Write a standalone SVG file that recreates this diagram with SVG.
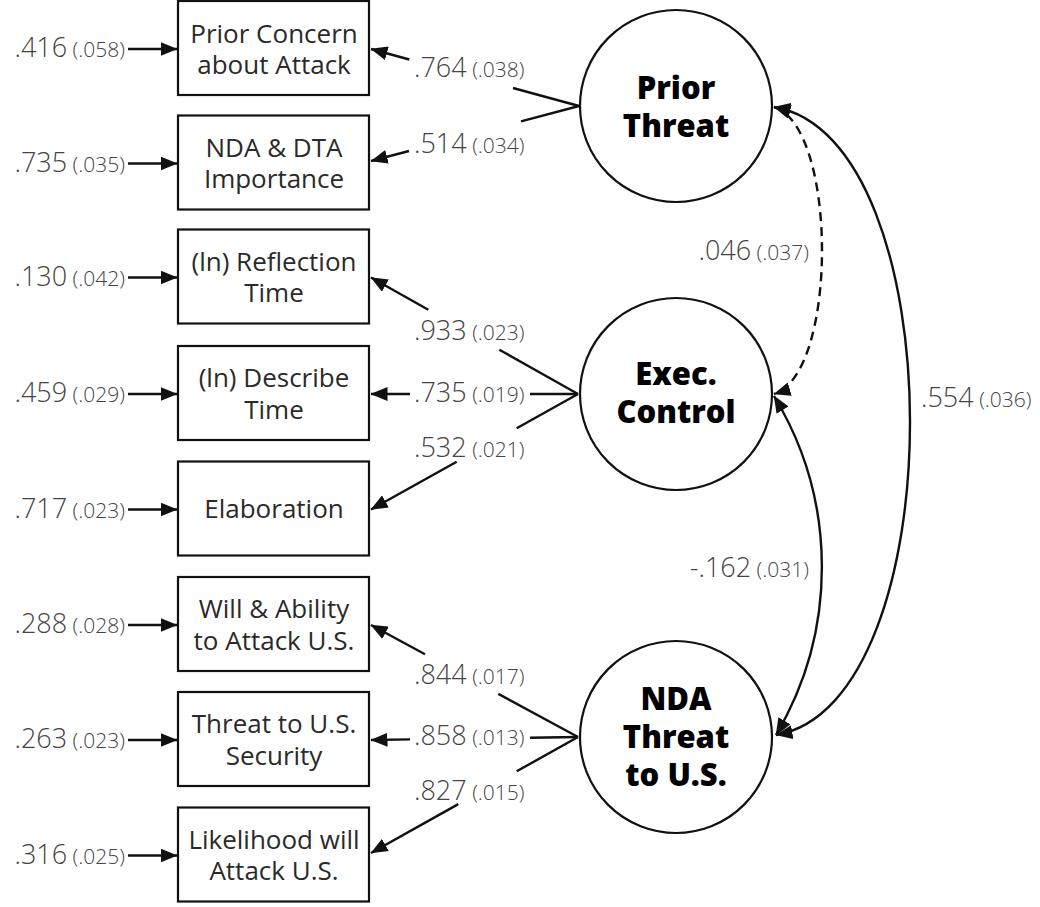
<svg xmlns="http://www.w3.org/2000/svg" width="1040" height="907" viewBox="0 0 1040 907">
<style>
.box{fill:#fff;stroke:#111;stroke-width:2.2}
.lat{fill:#fff;stroke:#111;stroke-width:2.2}
.bt{font-family:"Open Sans","Noto Sans",sans-serif;font-size:26px;fill:#2a2a2a;text-anchor:middle}
.ct{font-family:"Open Sans","Noto Sans",sans-serif;font-size:31px;font-weight:800;fill:#000;text-anchor:middle}
.num{font-family:"Open Sans","Noto Sans",sans-serif;font-size:27px;font-weight:300;fill:#444}
.se{font-size:21px}
.ln{fill:none;stroke:#111;stroke-width:2.4}
.dash{stroke-dasharray:9 6}
</style>
<defs>
<marker id="ah" viewBox="0 0 17 14" refX="16.5" refY="7" markerWidth="17" markerHeight="14" markerUnits="userSpaceOnUse" orient="auto-start-reverse">
<path d="M0,0 L17,7 L0,14 z" fill="#111"/>
</marker>
</defs>
<rect width="1040" height="907" fill="#fff"/>

<g id="connectors">
<path class="ln" d="M128 49 L177 49" marker-end="url(#ah)"/>
<path class="ln" d="M128 163.5 L177 163.5" marker-end="url(#ah)"/>
<path class="ln" d="M128 277.5 L177 277.5" marker-end="url(#ah)"/>
<path class="ln" d="M128 394 L177 394" marker-end="url(#ah)"/>
<path class="ln" d="M128 509.5 L177 509.5" marker-end="url(#ah)"/>
<path class="ln" d="M128 625 L177 625" marker-end="url(#ah)"/>
<path class="ln" d="M128 740 L177 740" marker-end="url(#ah)"/>
<path class="ln" d="M128 855.5 L177 855.5" marker-end="url(#ah)"/>
<path class="ln" d="M579 106 L513 88 M409.3 59.5 L371 49" marker-end="url(#ah)"/>
<path class="ln" d="M579 106 L521 121.3 M409 151 L371 161" marker-end="url(#ah)"/>
<path class="ln" d="M578 394 L499.3 349.7 M428.3 309.7 L371 277.5" marker-end="url(#ah)"/>
<path class="ln" d="M578 394 L530 394 M410 394 L371 394" marker-end="url(#ah)"/>
<path class="ln" d="M578 394 L516.7 428.2 M456.7 461.7 L371 509.5" marker-end="url(#ah)"/>
<path class="ln" d="M578 737 L498.3 693.9 M425 654.2 L371 625" marker-end="url(#ah)"/>
<path class="ln" d="M578 737 L530 737.7 M410 739.4 L371 740" marker-end="url(#ah)"/>
<path class="ln" d="M578 737 L516.7 771.3 M458.3 804.1 L371 853" marker-end="url(#ah)"/>
<path class="ln dash" d="M774 107 C838 127 838 374 774 394" marker-start="url(#ah)" marker-end="url(#ah)"/>
<path class="ln" d="M774 396 A330 330 0 0 1 776 735" marker-start="url(#ah)" marker-end="url(#ah)"/>
<path class="ln" d="M774 107 C955 137 955 705 776 735" marker-start="url(#ah)" marker-end="url(#ah)"/>
</g>

<g id="node-prior-concern"><rect class="box" x="178" y="1" width="191" height="94"/><text class="bt" x="274" y="42.5">Prior Concern<tspan x="274" dy="31.3">about Attack</tspan></text></g>
<g id="node-nda-dta"><rect class="box" x="178" y="115.5" width="191" height="94"/><text class="bt" x="274" y="156.8">NDA &amp; DTA<tspan x="274" dy="31.3">Importance</tspan></text></g>
<g id="node-reflection"><rect class="box" x="178" y="229.5" width="191" height="94"/><text class="bt" x="274" y="270.8">(ln) Reflection<tspan x="274" dy="31.3">Time</tspan></text></g>
<g id="node-describe"><rect class="box" x="178" y="346" width="191" height="94"/><text class="bt" x="274" y="387.3">(ln) Describe<tspan x="274" dy="31.3">Time</tspan></text></g>
<g id="node-elaboration"><rect class="box" x="178" y="461.5" width="191" height="94"/><text class="bt" x="274" y="518.3">Elaboration</text></g>
<g id="node-will-ability"><rect class="box" x="178" y="577" width="191" height="94"/><text class="bt" x="274" y="618.3">Will &amp; Ability<tspan x="274" dy="31.3">to Attack U.S.</tspan></text></g>
<g id="node-threat-security"><rect class="box" x="178" y="692" width="191" height="94"/><text class="bt" x="274" y="733.3">Threat to U.S.<tspan x="274" dy="31.3">Security</tspan></text></g>
<g id="node-likelihood"><rect class="box" x="178" y="807.5" width="191" height="94"/><text class="bt" x="274" y="848.8">Likelihood will<tspan x="274" dy="31.3">Attack U.S.</tspan></text></g>

<g id="node-prior-threat"><circle class="lat" cx="676" cy="106" r="96"/><text class="ct" x="676" y="99.3">Prior<tspan x="676" dy="37.4">Threat</tspan></text></g>
<g id="node-exec-control"><circle class="lat" cx="676" cy="394" r="96"/><text class="ct" x="676" y="385">Exec.<tspan x="676" dy="38">Control</tspan></text></g>
<g id="node-nda-threat"><circle class="lat" cx="676" cy="737" r="96"/><text class="ct" x="676" y="710">NDA<tspan x="676" dy="38">Threat</tspan><tspan x="676" dy="38">to U.S.</tspan></text></g>

<g id="labels">
<text class="num" x="125" y="57" text-anchor="end">.416<tspan class="se"> (.058)</tspan></text>
<text class="num" x="125" y="171.5" text-anchor="end">.735<tspan class="se"> (.035)</tspan></text>
<text class="num" x="125" y="285.5" text-anchor="end">.130<tspan class="se"> (.042)</tspan></text>
<text class="num" x="125" y="402" text-anchor="end">.459<tspan class="se"> (.029)</tspan></text>
<text class="num" x="125" y="517.5" text-anchor="end">.717<tspan class="se"> (.023)</tspan></text>
<text class="num" x="125" y="633" text-anchor="end">.288<tspan class="se"> (.028)</tspan></text>
<text class="num" x="125" y="748" text-anchor="end">.263<tspan class="se"> (.023)</tspan></text>
<text class="num" x="125" y="863.5" text-anchor="end">.316<tspan class="se"> (.025)</tspan></text>

<text class="num" x="414" y="77">.764<tspan class="se"> (.038)</tspan></text>
<text class="num" x="414" y="153">.514<tspan class="se"> (.034)</tspan></text>
<text class="num" x="414" y="340">.933<tspan class="se"> (.023)</tspan></text>
<text class="num" x="414" y="402">.735<tspan class="se"> (.019)</tspan></text>
<text class="num" x="414" y="457">.532<tspan class="se"> (.021)</tspan></text>
<text class="num" x="414" y="684">.844<tspan class="se"> (.017)</tspan></text>
<text class="num" x="414" y="745">.858<tspan class="se"> (.013)</tspan></text>
<text class="num" x="414" y="800">.827<tspan class="se"> (.015)</tspan></text>

<text class="num" x="809" y="260" text-anchor="end">.046<tspan class="se"> (.037)</tspan></text>
<text class="num" x="809" y="577" text-anchor="end">-.162<tspan class="se"> (.031)</tspan></text>
<text class="num" x="921" y="407">.554<tspan class="se"> (.036)</tspan></text>
</g>
</svg>
